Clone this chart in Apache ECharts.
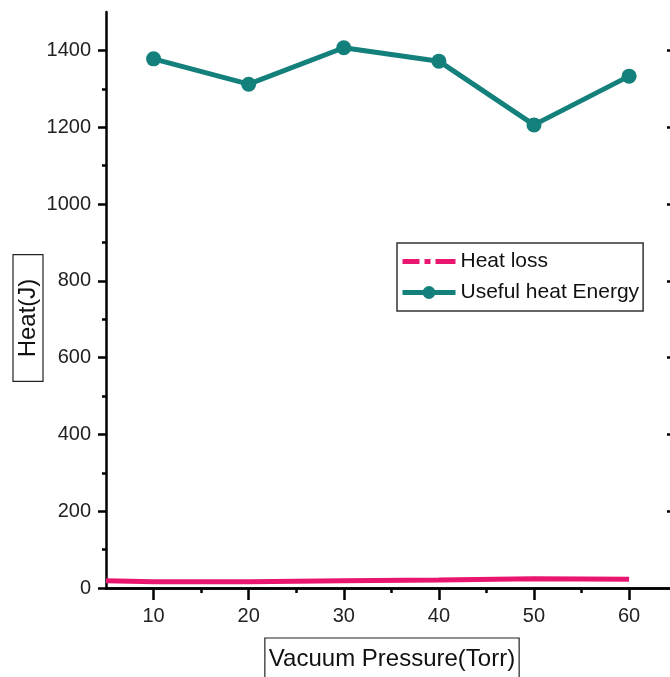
<!DOCTYPE html>
<html>
<head>
<meta charset="utf-8">
<script src="https://cdn.jsdelivr.net/npm/echarts@6/dist/echarts.min.js"></script>
<style>
html,body{margin:0;padding:0;background:#fff;}
#chart{width:670px;height:677px;}
</style>
</head>
<body>
<div id="chart"></div>
<script>
// ---- data ----
const pressure = [10, 20, 30, 40, 50, 60];
const usefulHeat = [1378, 1312, 1407, 1372, 1206, 1333];
const lossPressure = [5, 10, 20, 30, 40, 50, 60];
const heatLoss = [19, 16, 16, 19, 21, 24, 23];
const xMajorTicks = [10, 20, 30, 40, 50, 60];
const xMinorTicks = [15, 25, 35, 45, 55];
const yMajorTicks = [0, 200, 400, 600, 800, 1000, 1200, 1400];
const yMinorTicks = [100, 300, 500, 700, 900, 1100, 1300];
const seriesNames = ['Heat loss', 'Useful heat Energy'];
const xTitle = 'Vacuum Pressure(Torr)';
const yTitle = 'Heat(J)';

const FONT = '"Liberation Sans", Arial, sans-serif';
const TEAL = '#14807c';
const PINK = '#e8166e';
// dash-dot legend glyph (icon shape only)
const DASH_DOT_ICON = 'path://M0,0L0,16L0,0Z M0,5.5h17v5h-17z M22,5.5h6v5h-6z M33,5.5h20v5h-20z M53,0L53,16L53,0Z';

const chart = echarts.init(document.getElementById('chart'));
const xBase = {type: 'value', min: 5, max: 64.3, gridIndex: 0, splitLine: {show: false}};
const yBase = {type: 'value', min: 0, max: 1500, gridIndex: 0, splitLine: {show: false}};
const plain = v => String(v);

chart.setOption({
  animation: false,
  backgroundColor: '#fff',
  grid: {left: 106, top: 12, right: 0, height: 576, containLabel: false},
  xAxis: [
    Object.assign({}, xBase, {
      position: 'bottom',
      axisLine: {show: true, lineStyle: {color: '#000', width: 2.5}},
      axisTick: {show: true, inside: false, length: 10, lineStyle: {color: '#000', width: 2.5}, customValues: xMajorTicks},
      axisLabel: {show: true, margin: 18, color: '#222', fontSize: 20, fontFamily: FONT, customValues: xMajorTicks, formatter: plain}
    }),
    Object.assign({}, xBase, {
      position: 'bottom',
      axisLine: {show: false},
      axisTick: {show: true, inside: false, length: 5, lineStyle: {color: '#000', width: 2.5}, customValues: xMinorTicks},
      axisLabel: {show: false}
    }),
    Object.assign({}, xBase, {
      position: 'top',
      axisLine: {show: true, lineStyle: {color: '#000', width: 2.5}},
      axisTick: {show: true, inside: true, length: 12, lineStyle: {color: '#000', width: 2.5}, customValues: xMajorTicks},
      axisLabel: {show: false}
    })
  ],
  yAxis: [
    Object.assign({}, yBase, {
      position: 'left',
      axisLine: {show: true, lineStyle: {color: '#000', width: 2.5}},
      axisTick: {show: true, inside: false, length: 8, lineStyle: {color: '#000', width: 2.5}, customValues: yMajorTicks},
      axisLabel: {show: true, margin: 15, color: '#222', fontSize: 20, fontFamily: FONT, customValues: yMajorTicks, formatter: plain}
    }),
    Object.assign({}, yBase, {
      position: 'left',
      axisLine: {show: false},
      axisTick: {show: true, inside: false, length: 4, lineStyle: {color: '#000', width: 2.5}, customValues: yMinorTicks},
      axisLabel: {show: false}
    }),
    Object.assign({}, yBase, {
      position: 'right',
      axisLine: {show: false},
      axisTick: {show: true, inside: true, length: 3, lineStyle: {color: '#000', width: 2.5}, customValues: yMajorTicks.slice(1)},
      axisLabel: {show: false}
    })
  ],
  legend: {
    orient: 'vertical',
    left: 397, top: 243,
    itemWidth: 53, itemHeight: 16, itemGap: 10,
    padding: [8, 4, 8, 3],
    borderColor: '#333', borderWidth: 1.5,
    textStyle: {fontSize: 21, fontFamily: FONT, color: '#111', lineHeight: 20},
    data: [
      {name: seriesNames[0], icon: DASH_DOT_ICON, itemStyle: {color: PINK, borderWidth: 0}},
      {name: seriesNames[1], lineStyle: {width: 5, color: TEAL}}
    ]
  },
  series: [
    {
      name: seriesNames[0], type: 'line', xAxisIndex: 0, yAxisIndex: 0,
      data: lossPressure.map((x, i) => [x, heatLoss[i]]),
      symbol: 'none',
      lineStyle: {color: PINK, width: 5},
      itemStyle: {color: PINK}
    },
    {
      name: seriesNames[1], type: 'line', xAxisIndex: 0, yAxisIndex: 0,
      data: pressure.map((x, i) => [x, usefulHeat[i]]),
      symbol: 'circle', symbolSize: 15,
      lineStyle: {color: TEAL, width: 5},
      itemStyle: {color: TEAL}
    }
  ],
  graphic: [
    {
      type: 'text', x: 28, y: 318, rotation: Math.PI / 2,
      style: {
        text: yTitle, font: '24px ' + FONT, fill: '#111',
        align: 'center', verticalAlign: 'middle',
        borderColor: '#222', borderWidth: 1.2, padding: [2, 24, 2, 24], lineHeight: 26
      }
    },
    {
      type: 'text', x: 392, y: 659,
      style: {
        text: xTitle, font: '24px ' + FONT, fill: '#111',
        align: 'center', verticalAlign: 'middle',
        borderColor: '#222', borderWidth: 1.2, padding: [4, 4, 10, 4], lineHeight: 28
      }
    }
  ]
});
</script>
</body>
</html>
